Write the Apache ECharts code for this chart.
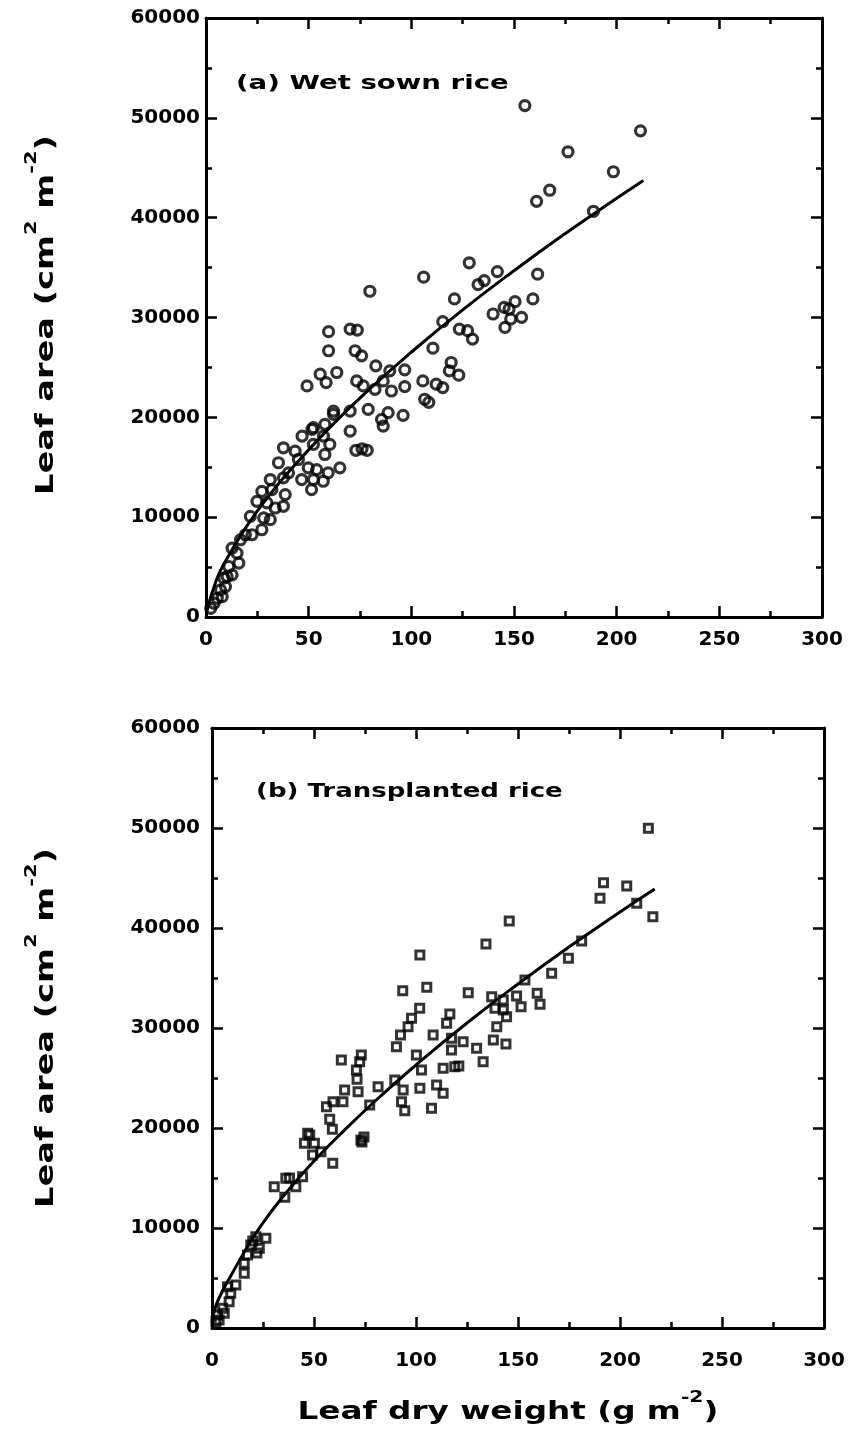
<!DOCTYPE html>
<html><head><meta charset="utf-8">
<script src="https://cdn.jsdelivr.net/npm/echarts/dist/echarts.min.js"></script>
<style>html,body{margin:0;padding:0;background:#fff}#c{width:848px;height:1436px}</style>
</head><body><div id="c"></div>
<script>
// ---- data ----
const xTickMin = 0, xTickMax = 300, xTickStep = 50;
const yTickMin = 0, yTickMax = 60000, yTickStep = 10000;
const panelLabels = ['(a) Wet sown rice', '(b) Transplanted rice'];
const xAxisTitle = '{b|Leaf dry weight (g m}{sup|-2}{b|)}';
const yAxisTitle = '{b|Leaf area (cm}{sup|2}{b| m}{sup|-2}{b|)}';

// (a) wet sown rice: [leaf dry weight, leaf area]
const wetSownPoints = [
  [155.3,51230],[211.6,48700],[176.3,46600],[198.4,44600],[167.4,42750],[161,41640],[188.7,40640],
  [141.9,34600],[135.5,33700],[161.5,34340],[159.2,31860],[150.5,31590],[145.2,31020],[139.8,30350],
  [147.6,30850],[153.7,30020],[148.4,29850],[145.6,29010],
  [128.2,35480],[106,34040],[79.8,32630],[132.5,33300],[121,31860],[115.3,29580],[123.4,28840],
  [127.4,28680],[129.8,27840],[110.5,26930],[59.7,28580],[70.2,28840],[73.7,28740],[59.7,26670],
  [72.6,26670],[75.8,26160],[49.2,23150],[55.6,24320],[63.7,24490],[58.5,23480],[82.7,25160],
  [73.4,23650],[76.6,23150],[89.5,24660],[96.8,24760],[90.3,22640],[96.8,23080],[82.3,22810],
  [86.3,23650],[105.6,23650],[119.4,25490],[118.5,24660],[123.1,24220],[112.1,23320],[115.3,22980],
  [106.5,21810],[108.5,21500],[79,20800],[70.2,20630],[88.7,20470],[96,20200],[85.5,19800],
  [62.1,20630],[62.1,20300],[70.2,18620],[51.6,18800],[46.8,18120],[57.2,18120],[86.3,19120],
  [52.3,18960],[57.9,19300],[52.3,17290],[60.3,17290],[37.7,16950],[43.4,16610],[35.3,15450],
  [45,15780],[57.9,16280],[65.2,14940],[49.8,14940],[53.9,14770],[59.5,14440],[46.6,13770],
  [52.3,13770],[57.1,13600],[51.4,12760],[31.3,13770],[37.7,13940],[40.2,14440],[27.2,12590],
  [32.1,12760],[38.6,12260],[24.8,11590],[29.7,11430],[37.7,11090],[33.7,10920],[21.6,10080],
  [28.1,9920],[31.3,9750],[27.2,8740],[19.2,8240],[16.8,7740],[22.4,8240],[12.7,6900],[15.1,6400],
  [16,5400],[11.1,5060],[12.7,4220],[8.7,3890],[9.5,3050],[7.1,2710],[5.5,1880],[3.9,1380],
  [2.3,870],[7.9,2040],[10.3,4050],[73,16700],[76,16850],[78.5,16700]
];
// fitted curve for (a)
const wetSownFit = [
  [0.5,600],[5,3670],[10,5790],[20,9160],[30,11970],[40,14470],[60,18920],[80,22890],
  [100,26530],[125,30760],[150,34690],[175,38410],[200,41940],[213,43730]
];

// (b) transplanted rice
const transplantedPoints = [
  [213.9,49970],[191.9,44530],[203.3,44200],[190.2,42970],[208.2,42470],[216.1,41130],[145.7,40700],
  [181.2,38700],[134.3,38400],[174.7,36970],[166.5,35470],[153.4,34800],[137.1,33130],[142.8,32800],
  [149.3,33200],[159.4,33470],[160.8,32370],[151.5,32130],[138.7,31970],[144.4,31130],[142.8,31800],
  [139.6,30130],[137.9,28800],[144.1,28400],
  [101.9,37300],[93.5,33730],[105.3,34070],[125.6,33530],[101.8,31970],[116.6,31400],[97.8,30970],
  [115,30470],[96.1,30130],[92.4,29300],[108.4,29300],[90.4,28130],[117.4,28970],[123.1,28630],
  [117.4,27800],[129.7,27970],[132.9,26630],[100.2,27300],[102.7,25800],[113.3,25970],[119,26130],
  [121,26200],[101.9,23970],[110.1,24300],[113.3,23470],[107.6,21970],[89.6,24800],[93.7,23800],
  [92.9,22630],[94.5,21730],[81.4,24130],[77.3,22300],[63.4,26800],[73.2,27300],[72.4,26630],
  [70.8,25800],[71.1,24870],[65,23800],[71.6,23630],[59.3,22630],[64.2,22630],[56.1,22130],
  [57.7,20870],[59,19870],[47.9,19300],
  [46.9,19470],[45.3,18470],[50.2,18470],[53.4,17630],[49.3,17300],[59.2,16470],[73,18800],
  [74.5,19100],[73.5,18600],[30.5,14130],[36.2,14970],[41.1,14130],[44.4,15130],[35.7,13070],
  [38,15000],[21.5,9130],[26.4,8970],[19,8300],[23.2,7970],[17.4,7300],[15.8,6470],[15.8,5470],
  [11.7,4300],[7.6,4130],[9.2,3470],[8.4,2630],[5.2,1970],[2.7,1300],[1.9,630],[3.5,800],[6,1470],
  [20,8700],[22,7500]
];
const transplantedFit = [
  [1,1500],[3,2800],[10,5500],[20,9000],[30,11900],[40,14400],[50,16700],[60,18800],[80,22700],
  [100,26300],[125,30500],[150,34400],[175,38100],[200,41600],[217,43900]
];

// ---- chart ----
const FONT = 'DejaVu Sans';
const grids = [
  {left: 206, width: 616, top: 18, height: 599},
  {left: 212, width: 612, top: 728, height: 600}
];
const tickLabel = {color: '#000', fontFamily: FONT, fontWeight: 'bold', fontSize: 20, formatter: v => String(v)};

function axisBase(gi, min, max, step) {
  return {
    gridIndex: gi, type: 'value', min: min, max: max, interval: step,
    axisLine: {onZero: false, lineStyle: {color: '#000', width: 3}},
    axisTick: {inside: true, length: 11, lineStyle: {color: '#000', width: 2.5}},
    minorTick: {show: true, splitNumber: 2, length: 6, lineStyle: {color: '#000', width: 2.5}},
    splitLine: {show: false}
  };
}
function xAxes(gi) {
  const bottom = Object.assign(axisBase(gi, xTickMin, xTickMax, xTickStep), {
    position: 'bottom', axisLabel: Object.assign({margin: gi === 0 ? 13 : 23}, tickLabel)
  });
  const top = Object.assign(axisBase(gi, xTickMin, xTickMax, xTickStep), {position: 'top', axisLabel: {show: false}});
  return [bottom, top];
}
function yAxes(gi) {
  const left = Object.assign(axisBase(gi, yTickMin, yTickMax, yTickStep), {
    position: 'left', axisLabel: Object.assign({margin: gi === 0 ? 6 : 12}, tickLabel)
  });
  const right = Object.assign(axisBase(gi, yTickMin, yTickMax, yTickStep), {position: 'right', axisLabel: {show: false}});
  return [left, right];
}

const richTitle = {
  b: {fontSize: 24, fontFamily: FONT, fontWeight: 'bold', fill: '#000', color: '#000', verticalAlign: 'bottom', lineHeight: 34},
  sup: {fontSize: 15, fontFamily: FONT, fontWeight: 'bold', fill: '#000', color: '#000', verticalAlign: 'top', lineHeight: 34}
};
function titleText(text, x, y, rot, sx) {
  return {type: 'text', x: x, y: y, rotation: rot, scaleX: sx, silent: true,
    style: {text: text, rich: richTitle, fill: '#000', align: 'center', verticalAlign: 'middle',
            textAlign: 'center', textVerticalAlign: 'middle'}};
}
function panelText(text, x, y, sx) {
  return {type: 'text', x: x, y: y, scaleX: sx, silent: true,
    style: {text: text, fill: '#000', fontSize: 20, fontFamily: FONT, fontWeight: 'bold',
            align: 'left', verticalAlign: 'middle', textAlign: 'left', textVerticalAlign: 'middle'}};
}

const ringStyle = {color: 'rgba(0,0,0,0)', borderColor: '#000', borderWidth: 3.2};
const squareStyle = {color: 'rgba(0,0,0,0)', borderColor: '#000', borderWidth: 3};
const option = {
  animation: false,
  backgroundColor: '#fff',
  grid: grids,
  xAxis: xAxes(0).concat(xAxes(1)),
  yAxis: yAxes(0).concat(yAxes(1)),
  graphic: [
    panelText(panelLabels[0], 236, 84, 1.38),
    panelText(panelLabels[1], 256, 792, 1.3),
    titleText(xAxisTitle, 508, 1408, 0, 1.36),
    titleText(yAxisTitle, 42, 315, Math.PI / 2, 1.4),
    titleText(yAxisTitle, 42, 1028, Math.PI / 2, 1.4)
  ],
  series: [
    {type: 'scatter', xAxisIndex: 0, yAxisIndex: 0, data: wetSownPoints, symbol: 'circle', symbolSize: 10, itemStyle: ringStyle},
    {type: 'line', xAxisIndex: 0, yAxisIndex: 0, data: wetSownFit, smooth: true, showSymbol: false, lineStyle: {color: '#000', width: 3}, z: 3},
    {type: 'scatter', xAxisIndex: 2, yAxisIndex: 2, data: transplantedPoints, symbol: 'rect', symbolSize: 8, itemStyle: squareStyle},
    {type: 'line', xAxisIndex: 2, yAxisIndex: 2, data: transplantedFit, smooth: true, showSymbol: false, lineStyle: {color: '#000', width: 3}, z: 3}
  ]
};
echarts.init(document.getElementById('c'), null, {renderer: 'canvas'}).setOption(option);
</script>
</body></html>
